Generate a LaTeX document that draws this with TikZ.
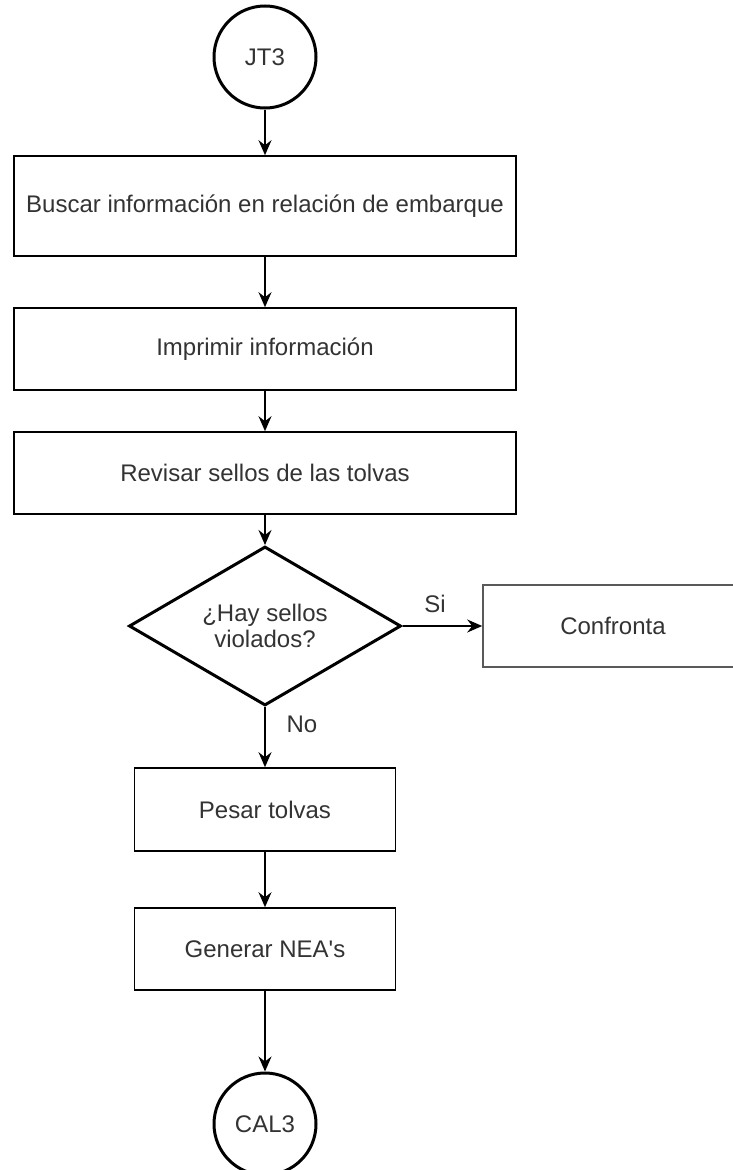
\documentclass[tikz,border=0pt]{standalone}
\usepackage{fontspec}
\setmainfont{Liberation Sans}
\usetikzlibrary{shapes.geometric,arrows.meta}
\begin{document}
\begin{tikzpicture}[x=1pt,y=-1pt,
  every node/.style={font=\fontsize{24}{26}\selectfont, text=black!80},
  procbox/.style={draw=black, line width=1.6pt, rectangle, inner sep=0pt, align=center},
  termcirc/.style={draw=black, line width=3pt, circle, inner sep=0pt, minimum size=102pt},
  decision/.style={draw=black, line width=3pt, diamond, aspect=1.71, inner sep=0pt,
     minimum width=272pt, minimum height=159pt, align=center},
  flow/.style={draw=black, line width=1.5pt, -{Stealth[length=15pt,width=13pt,inset=5pt]}},
  elabel/.style={inner sep=0pt}
]
\useasboundingbox (0,0) rectangle (733,1170);
\clip (0,0) rectangle (733,1170);
\fill[white] (0,0) rectangle (733,1170);

\node[termcirc] (jt3) at (265,57) {JT3};
\node[procbox, minimum width=502pt, minimum height=100pt] (b1) at (265,206) {Buscar información en relación de embarque};
\node[procbox, minimum width=502pt, minimum height=82pt] (b2) at (265,349) {Imprimir información};
\node[procbox, minimum width=502pt, minimum height=82pt] (b3) at (265,473) {Revisar sellos de las tolvas};
\node[decision] (dec) at (265,626) {¿Hay sellos\\violados?};
\node[procbox, draw=black!65, minimum width=260pt, minimum height=82pt] (conf) at (613,626) {Confronta};
\node[procbox, minimum width=261pt, minimum height=83pt] (pesar) at (265,809.5) {Pesar tolvas};
\node[procbox, minimum width=261pt, minimum height=82pt] (gen) at (265,949) {Generar NEA\textquotesingle s};
\node[termcirc] (cal3) at (265,1124) {CAL3};

\draw[flow] (jt3) -- (b1);
\draw[flow] (b1) -- (b2);
\draw[flow] (b2) -- (b3);
\draw[flow] (b3) -- (dec);
\draw[flow] (dec.east) -- (conf.west);
\draw[flow] (dec.south) -- (pesar);
\draw[flow] (pesar) -- (gen);
\draw[flow] (gen) -- (cal3);

\node[elabel] (si) at (435,604) {Si};
\node[elabel] (no) at (302,724) {No};
\end{tikzpicture}
\end{document}
